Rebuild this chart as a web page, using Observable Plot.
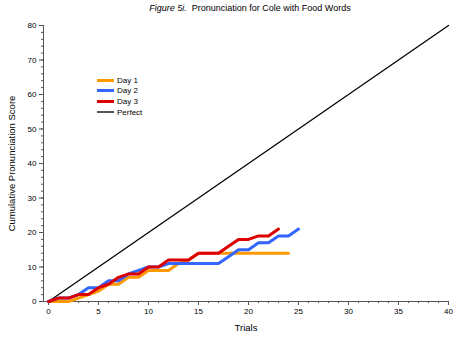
<!DOCTYPE html>
<html>
<head>
<meta charset="utf-8">
<script src="https://cdn.jsdelivr.net/npm/d3@7"></script>
<script src="https://cdn.jsdelivr.net/npm/@observablehq/plot@0.6"></script>
<style>
  html, body { margin: 0; padding: 0; background: #fff; }
  #wrap { position: relative; width: 455px; height: 337px; font-family: "Liberation Sans", Arial, sans-serif; }
  #title { position: absolute; top: 3px; left: 0; width: 500px; text-align: center; font-size: 9px; color: #000; white-space: pre; }
  #legend { position: absolute; left: 97px; top: 75px; font-size: 8px; color: #000; }
  .row { height: 10.6px; display: flex; align-items: center; }
  .sw { width: 17px; margin-right: 3px; }
</style>
</head>
<body>
<div id="wrap">
  <div id="title"><i>Figure 5i.</i>  Pronunciation for Cole with Food Words</div>
  <div id="legend"></div>
</div>
<script>
// Data
const day1 = [0,0,0,1,2,3,5,5,7,7,9,9,9,11,12,14,14,14,14,14,14,14,14,14,14];
const day2 = [0,1,1,2,4,4,6,6,8,9,10,10,11,11,11,11,11,11,13,15,15,17,17,19,19,21];
const day3 = [0,1,1,2,2,4,5,7,8,8,10,10,12,12,12,14,14,14,16,18,18,19,19,21];
const perfectTrials = [0, 40];
const perfectScores = [0, 80];
const seriesNames = ["Day 1", "Day 2", "Day 3", "Perfect"];
const seriesColors = ["#FF9900", "#3366FF", "#DD0000", "#000000"];
const xMajorTicks = [0,5,10,15,20,25,30,35,40];
const yMajorTicks = [0,10,20,30,40,50,60,70,80];

const toRows = (arr, name) => arr.map((v, i) => ({trial: i, score: v, series: name}));
const rows = [
  ...toRows(day1, "Day 1"),
  ...toRows(day2, "Day 2"),
  ...toRows(day3, "Day 3")
];
const perfect = perfectTrials.map((t, i) => ({trial: t, score: perfectScores[i], series: "Perfect"}));

const chart = Plot.plot({
  width: 455,
  height: 337,
  marginTop: 25,
  marginBottom: 36,
  marginLeft: 43,
  marginRight: 7,
  style: {fontFamily: "Liberation Sans, Arial, sans-serif", fontSize: "8px", background: "transparent"},
  x: {domain: [-0.5, 40]},
  y: {domain: [0, 80]},
  color: {domain: seriesNames, range: seriesColors},
  marks: [
    Plot.axisX({ticks: d3.range(0, 41, 1), tickSize: 2, text: null, label: null, stroke: "#555"}),
    Plot.axisX({ticks: xMajorTicks, tickSize: 4, tickPadding: 3, fontSize: 8, stroke: "#555", label: null}),
    Plot.axisX({ticks: [], fontSize: 9.5, label: "Trials", labelAnchor: "center", labelArrow: "none", labelOffset: 29}),
    Plot.axisY({ticks: d3.range(0, 81, 2), tickSize: 2, text: null, label: null, stroke: "#555"}),
    Plot.axisY({ticks: yMajorTicks, tickSize: 4, tickPadding: 3, fontSize: 8, stroke: "#555", label: null}),
    Plot.axisY({ticks: [], fontSize: 9.5, label: "Cumulative Pronunciation Score", labelAnchor: "center", labelArrow: "none", labelOffset: 35}),
    Plot.ruleY([0], {stroke: "#555"}),
    Plot.ruleX([-0.5], {stroke: "#555"}),
    Plot.line(perfect, {x: "trial", y: "score", stroke: "series", strokeWidth: 1.3}),
    Plot.line(rows, {x: "trial", y: "score", stroke: "series", z: "series", strokeWidth: 3, strokeLinejoin: "round"})
  ]
});
chart.style.position = "absolute";
chart.style.left = "0";
chart.style.top = "0";
const wrap = document.getElementById("wrap");
wrap.insertBefore(chart, wrap.firstChild);

// legend
const legend = document.getElementById("legend");
seriesNames.forEach((name, i) => {
  const row = document.createElement("div");
  row.className = "row";
  const sw = document.createElement("div");
  sw.className = "sw";
  const isPerfect = name === "Perfect";
  sw.style.height = isPerfect ? "2px" : "3px";
  sw.style.background = isPerfect ? "#555" : seriesColors[i];
  const label = document.createElement("span");
  label.textContent = name;
  row.appendChild(sw);
  row.appendChild(label);
  legend.appendChild(row);
});
</script>
</body>
</html>
